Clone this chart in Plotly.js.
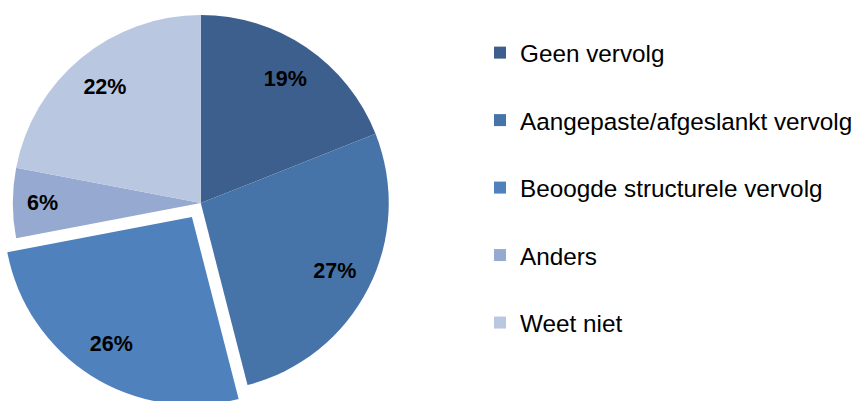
<!DOCTYPE html>
<html>
<head>
<meta charset="utf-8">
<script src="https://cdn.plot.ly/plotly-3.0.1.min.js"></script>
<style>
  html, body { margin: 0; padding: 0; overflow: hidden; background: #ffffff; width: 858px; height: 401px; }
  #chart { position: absolute; left: -10px; top: -10px; width: 868px; height: 430px; }
</style>
</head>
<body>
<div id="chart"></div>
<script>
// ---- data ----
var categories = ["Geen vervolg", "Aangepaste/afgeslankt vervolg", "Beoogde structurele vervolg", "Anders", "Weet niet"];
var shares = [19, 27, 26, 6, 22];
var pulls = [0, 0, 0.088, 0, 0];
var sliceColors = ["#3D5F8D", "#4674A9", "#4F81BD", "#95A9D1", "#B9C7E1"];

// legend labels: real category text, an empty second line gives the row spacing
var legendLabels = categories.map(function (c) {
  return "<span style='font-size:24.3px'>" + c + "</span><br>\u00a0";
});

var dom = { x: [2 / 868, 422 / 868], y: [1 - 417.5 / 430, 1 - 8.5 / 430] };

var pieTrace = {
  type: "pie",
  labels: legendLabels,
  values: shares,
  pull: pulls,
  sort: false,
  direction: "clockwise",
  rotation: 0,
  domain: dom,
  marker: { colors: sliceColors, line: { width: 0 } },
  textinfo: "none",
  hoverinfo: "skip",
  showlegend: true
};

// transparent ring carrying the percentage labels
var labelTrace = {
  type: "pie",
  labels: legendLabels,
  values: shares,
  pull: pulls,
  sort: false,
  direction: "clockwise",
  rotation: 0,
  hole: 0.6,
  domain: dom,
  marker: { colors: shares.map(function () { return "rgba(0,0,0,0)"; }), line: { width: 0 } },
  textinfo: "percent",
  texttemplate: "%{percent:.0%}",
  textposition: "inside",
  insidetextorientation: "horizontal",
  textfont: { family: "Liberation Sans, Arial, sans-serif", size: 21.5, weight: "bold", color: "#000000" },
  hoverinfo: "skip",
  showlegend: false
};

var layout = {
  width: 868,
  height: 430,
  margin: { l: 0, r: 0, t: 0, b: 0 },
  paper_bgcolor: "#ffffff",
  showlegend: true,
  legend: {
    x: (533 - 40) / 868,
    y: 1 - 40 / 430,
    xanchor: "left",
    yanchor: "top",
    valign: "top",
    font: { family: "Liberation Sans, Arial, sans-serif", size: 24.8, color: "#000000" },
    bgcolor: "rgba(0,0,0,0)",
    borderwidth: 0
  }
};

Plotly.newPlot("chart", [pieTrace, labelTrace], layout, { staticPlot: true, displayModeBar: false });
</script>
</body>
</html>
